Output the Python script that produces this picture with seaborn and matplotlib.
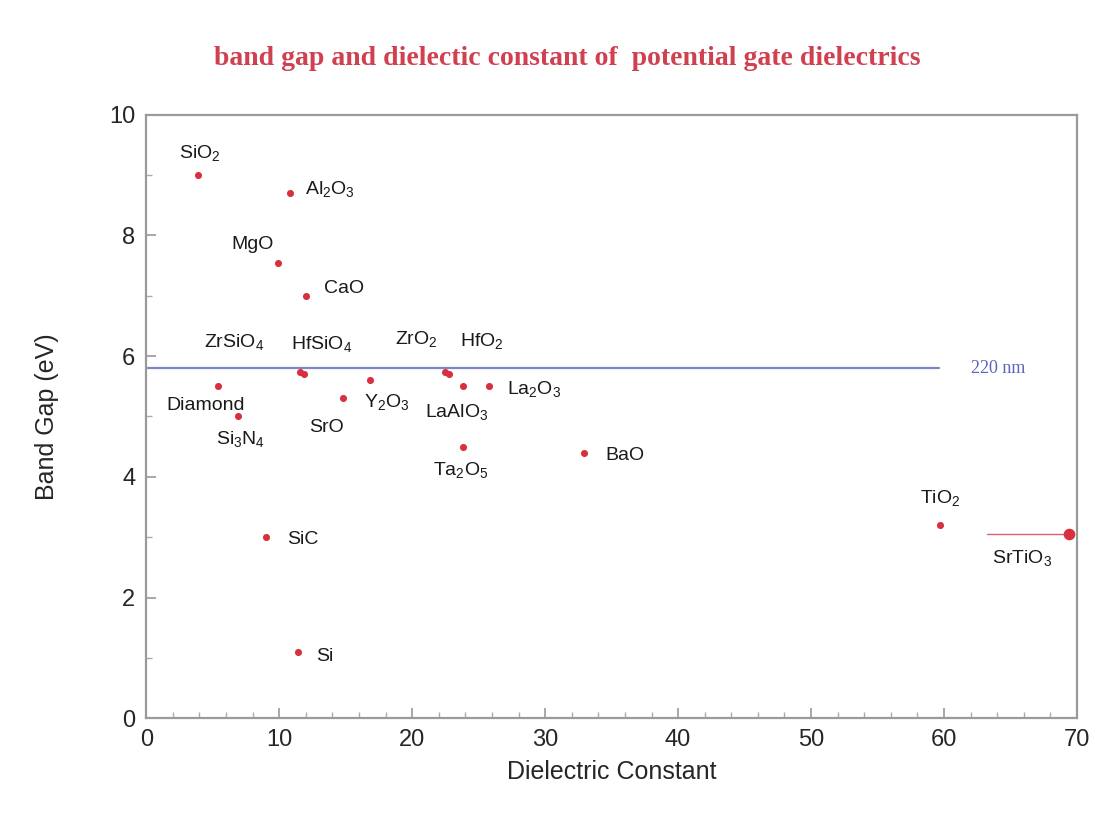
import matplotlib
matplotlib.use("Agg")
import matplotlib.pyplot as plt
import seaborn as sns
import pandas as pd

# values
materials = ["SiO$_2$", "Al$_2$O$_3$", "MgO", "CaO", "ZrSiO$_4$", "HfSiO$_4$",
             "ZrO$_2$", "HfO$_2$", "Diamond", "Si$_3$N$_4$", "SrO", "Y$_2$O$_3$",
             "LaAlO$_3$", "La$_2$O$_3$", "Ta$_2$O$_5$", "BaO", "SiC", "Si",
             "TiO$_2$", "SrTiO$_3$"]
dielectric = [3.9, 10.8, 9.9, 12.0, 11.6, 11.9, 22.5, 22.8, 5.4, 6.9, 14.8, 16.8,
              23.8, 25.8, 23.8, 32.9, 9.0, 11.4, 59.7, 69.4]
band_gap = [9.0, 8.7, 7.55, 7.0, 5.73, 5.7, 5.74, 5.7, 5.5, 5.0, 5.3, 5.6,
            5.5, 5.5, 4.5, 4.4, 3.0, 1.1, 3.2, 3.06]
uv_line_ev = 5.8
uv_label = "220 nm"

# label offsets in pixels relative to each point (ha, dx, dy)
label_pos = [("left", -19, 22), ("left", 15, 4), ("right", -4, 18), ("left", 18, 7),
             ("left", -96, 30), ("left", -13, 30), ("left", -50, 33), ("left", 11, 33),
             ("left", -52, -19), ("left", -22, -23), ("left", -34, -29), ("left", -6, -22),
             ("left", -38, -26), ("left", 18, -3), ("left", -30, -23), ("left", 22, -3),
             ("left", 21, -2), ("left", 18, -5), ("left", -20, 27), ("left", -77, -24)]

df = pd.DataFrame({"material": materials, "k": dielectric, "gap": band_gap})

sns.set_style("white")
plt.rcParams["font.family"] = ["Liberation Sans", "DejaVu Sans"]
plt.rcParams["mathtext.default"] = "regular"

red = "#d8303f"
fig = plt.figure(figsize=(11.08, 8.19), dpi=100)
ax = fig.add_axes([0.132, 0.123, 0.840, 0.737])

# the 220 nm reference line
ax.plot([0, 59.6], [uv_line_ev, uv_line_ev], color="#7c86c8", lw=1.6, zorder=1)
ax.text(62.0, uv_line_ev, uv_label, color="#5a64b8", fontsize=13,
        family="Liberation Serif", va="center", ha="left")

# SrTiO3 extends past the axis: draw a short lead line into it
srt = df.iloc[-1]
ax.plot([srt.k - 6.2, srt.k], [srt.gap, srt.gap], color="#e06070", lw=1.0, zorder=1)

sns.scatterplot(data=df, x="k", y="gap", ax=ax, color=red, s=26,
                edgecolor=red, linewidth=0, zorder=3, legend=False)
ax.scatter([srt.k], [srt.gap], color=red, s=70, zorder=3, linewidth=0)

for (name, x, y), (ha, dx, dy) in zip(zip(materials, dielectric, band_gap), label_pos):
    ax.annotate(name, (x, y), xytext=(dx, dy), textcoords="offset pixels",
                ha=ha, va="center", fontsize=14, color="#1a1a1a")

ax.set_xlim(0, 70)
ax.set_ylim(0, 10)
ax.set_xticks(range(0, 71, 10))
ax.set_xticks(range(0, 71, 2), minor=True)
ax.set_yticks(range(0, 11, 2))
ax.set_yticks(range(0, 11, 1), minor=True)
ax.tick_params(axis="both", which="both", bottom=True, left=True, direction="in")
ax.tick_params(axis="both", which="major", length=7, width=1.2, color="#999999",
               labelsize=17, pad=8)
ax.tick_params(axis="both", which="minor", length=4, width=1.0, color="#aaaaaa")
for sp in ax.spines.values():
    sp.set_color("#9a9a9a")
    sp.set_linewidth(1.6)

ax.set_xlabel("Dielectric Constant", fontsize=18, labelpad=6)
ax.set_ylabel("Band Gap (eV)", fontsize=18, labelpad=36)

fig.text(0.512, 0.929, "band gap and dielectic constant of  potential gate dielectrics",
         color="#d04050", fontsize=20, fontweight="bold", family="Liberation Serif",
         ha="center", va="center")

fig.savefig("out.png", dpi=100)
